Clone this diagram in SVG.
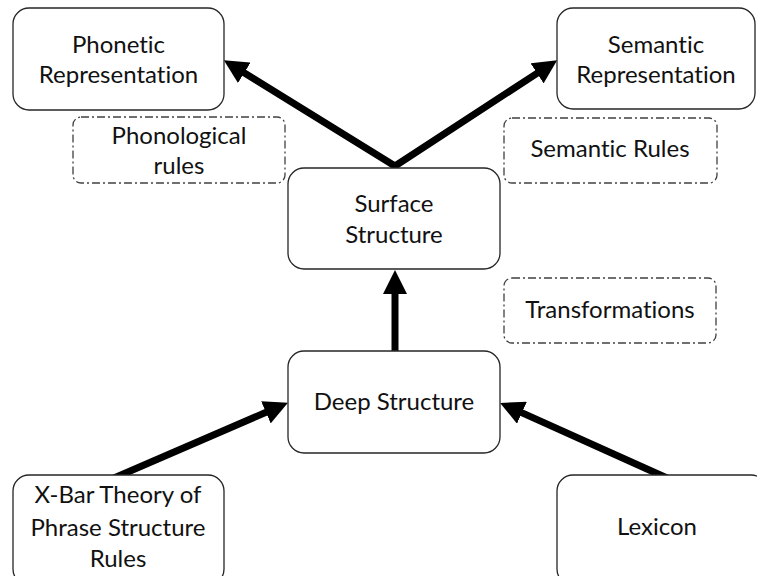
<svg xmlns="http://www.w3.org/2000/svg" width="757" height="576" viewBox="0 0 757 576">
  <style>
    .box { fill: #ffffff; stroke: #262626; stroke-width: 1.3; }
    .note { fill: #ffffff; stroke: #404040; stroke-width: 1.3; stroke-dasharray: 8 3 2 3; }
    .lbl { font-family: Lato, "Open Sans", sans-serif; font-size: 24px; fill: #111111; text-anchor: middle; font-variant-ligatures: none; }
    .edge { stroke: #000000; stroke-width: 7; fill: none; }
    .tip { marker-end: url(#head); }
    .fork { marker-start: url(#head); marker-end: url(#head); stroke-linejoin: miter; stroke-miterlimit: 10; }
  </style>
  <defs>
    <marker id="head" markerUnits="userSpaceOnUse" markerWidth="24" markerHeight="24" refX="4" refY="12" orient="auto-start-reverse">
      <path d="M0,0 L24,12 L0,24 Z" fill="#000000"/>
    </marker>
  </defs>
  <rect width="757" height="576" fill="#ffffff"/>

  <g id="connectors">
    <path class="edge fork" d="M240.9,70.7 L395,166 L540.4,71.1"/>
    <line class="edge tip" x1="395" y1="356" x2="395" y2="290"/>
    <line class="edge tip" x1="114" y1="478" x2="269.6" y2="410.8"/>
    <line class="edge tip" x1="667" y1="478" x2="518.3" y2="411.1"/>
  </g>

  <g id="phonetic">
    <rect class="box" x="13" y="8" width="211" height="102" rx="16"/>
    <text class="lbl" x="118.5" y="53">Phonetic</text>
    <text class="lbl" x="118.5" y="83">Representation</text>
  </g>
  <g id="semantic">
    <rect class="box" x="557" y="8" width="198" height="101" rx="16"/>
    <text class="lbl" x="656" y="53">Semantic</text>
    <text class="lbl" x="656" y="83">Representation</text>
  </g>
  <g id="phonological-rules">
    <rect class="note" x="73" y="117" width="212" height="66" rx="8"/>
    <text class="lbl" x="179" y="144">Phonological</text>
    <text class="lbl" x="179" y="174">rules</text>
  </g>
  <g id="semantic-rules">
    <rect class="note" x="504" y="118" width="213" height="65" rx="8"/>
    <text class="lbl" x="610" y="157">Semantic Rules</text>
  </g>
  <g id="surface">
    <rect class="box" x="288" y="168" width="212" height="101" rx="16"/>
    <text class="lbl" x="394" y="212">Surface</text>
    <text class="lbl" x="394" y="243">Structure</text>
  </g>
  <g id="transformations">
    <rect class="note" x="504" y="278" width="212" height="65" rx="8"/>
    <text class="lbl" x="610" y="318">Transformations</text>
  </g>
  <g id="deep">
    <rect class="box" x="288" y="351" width="212" height="102" rx="16"/>
    <text class="lbl" x="394" y="410">Deep Structure</text>
  </g>
  <g id="xbar">
    <rect class="box" x="13" y="475" width="211" height="110" rx="16"/>
    <text class="lbl" x="118" y="503">X-Bar Theory of</text>
    <text class="lbl" x="118" y="536">Phrase Structure</text>
    <text class="lbl" x="118" y="567">Rules</text>
  </g>
  <g id="lexicon">
    <rect class="box" x="557" y="475" width="210" height="110" rx="16"/>
    <text class="lbl" x="657" y="535">Lexicon</text>
  </g>
</svg>
